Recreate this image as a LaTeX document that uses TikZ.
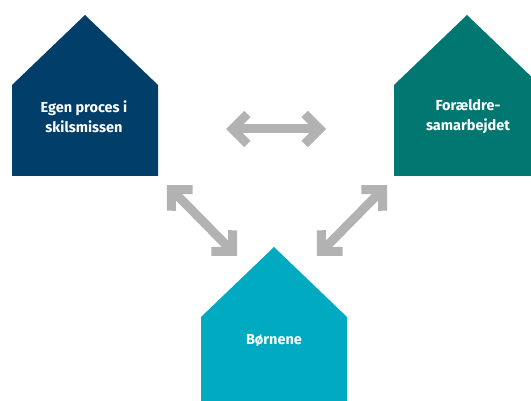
\documentclass[tikz,border=0pt]{standalone}
\usepackage{fontspec}
\setmainfont{Fira Sans}
\usepackage{xcolor}
\usepackage{tikz}
\usetikzlibrary{arrows.meta}
\definecolor{egenblue}{RGB}{1,62,106}
\definecolor{samteal}{RGB}{0,120,113}
\definecolor{boerncyan}{RGB}{0,170,193}
\definecolor{arrowgray}{RGB}{178,178,178}
\tikzset{
  houselabel/.style={text=white,font=\bfseries\fontsize{14.5}{20}\selectfont,align=center,inner sep=0pt},
  twoway/.style={draw=arrowgray,line width=9pt,
    {Straight Barb[length=15pt,width=30pt]}-{Straight Barb[length=15pt,width=30pt]}}
}

\begin{document}
\begin{tikzpicture}[x=1pt,y=-1pt]
    \useasboundingbox (0,0) rectangle (531,401);
    \clip (0,0) rectangle (531,401);

    % the three houses: centre x, apex y, bottom y
    \foreach \cx/\ytop/\ybot/\col in {85/15/176/egenblue,467/15/176/samteal,274/247/410/boerncyan} {
      \fill[\col] (\cx-73,\ybot) -- (\cx-73,\ytop+70) -- (\cx,\ytop)
        -- (\cx+73,\ytop+70) -- (\cx+73,\ybot) -- cycle;
    }

    \node[houselabel] (egen) at (84,116.5) {Egen proces i\\skilsmissen};
    \node[houselabel] (samarb) at (468,116.5) {Forældre-\\samarbejdet};
    \node[houselabel] (boern) at (274,340) {Børnene};

    % arrow ends
    \coordinate (egenR) at (226,129);
    \coordinate (samarbL) at (326,129);
    \coordinate (egenB) at (167,185);
    \coordinate (boernL) at (237,256);
    \coordinate (samarbB) at (387,185);
    \coordinate (boernR) at (317,256);

    \draw[twoway] (egenR) -- (samarbL);
    \draw[twoway] (egenB) -- (boernL);
    \draw[twoway] (samarbB) -- (boernR);
  \end{tikzpicture}
\end{document}
